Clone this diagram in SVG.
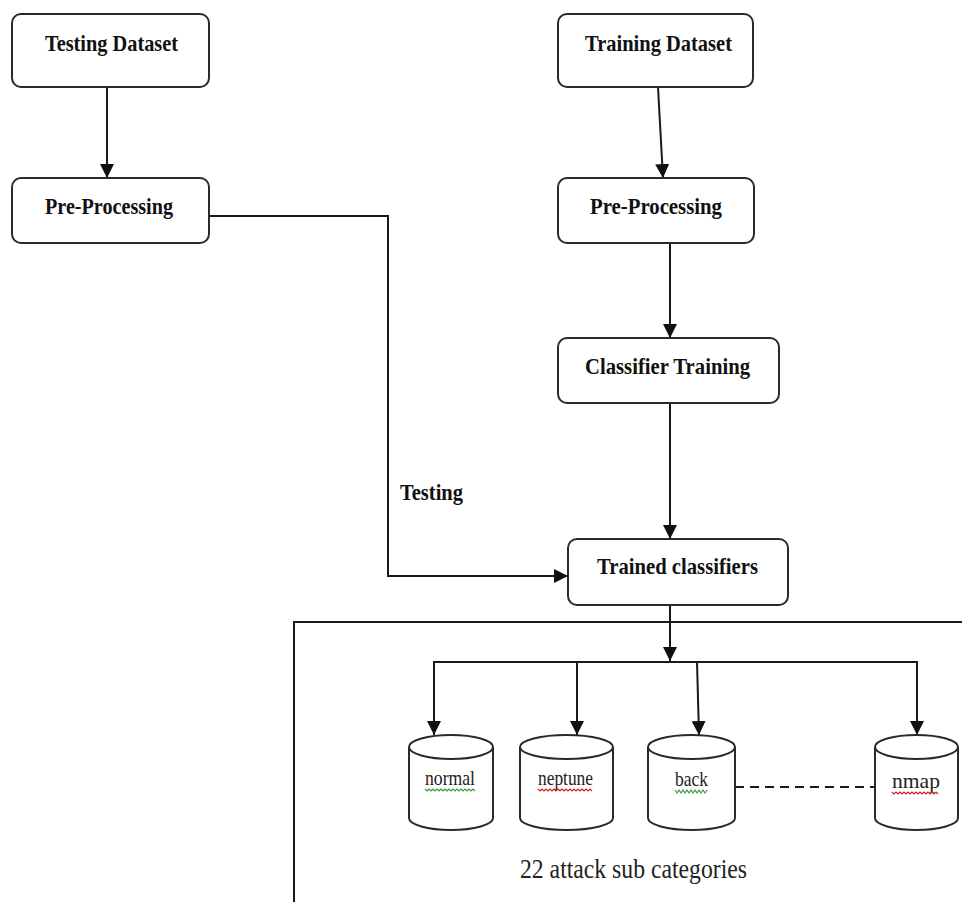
<svg xmlns="http://www.w3.org/2000/svg" width="962" height="902" viewBox="0 0 962 902">
<style>
.box{fill:#fff;stroke:#2a2a2a;stroke-width:2}
.lbl{font-family:"Liberation Serif","Times New Roman",serif;font-weight:bold;font-size:24px;fill:#111}
.cyl{font-family:"Liberation Serif","Times New Roman",serif;font-size:21px;fill:#222}
.ln{fill:none;stroke:#1a1a1a;stroke-width:2}
.sq{fill:none;stroke-width:1.2}
</style>
<defs>
<marker id="ah" markerUnits="userSpaceOnUse" markerWidth="14" markerHeight="14" viewBox="0 0 12 12" refX="12" refY="6" orient="auto">
<path d="M0,0 L12,6 L0,12 z" fill="#111"/>
</marker>
</defs>
<rect width="962" height="902" fill="#fff"/>

<g id="connectors">
<line class="ln" x1="107" y1="87" x2="107" y2="178" marker-end="url(#ah)"/>
<line class="ln" x1="658" y1="87" x2="663" y2="178" marker-end="url(#ah)"/>
<line class="ln" x1="670" y1="243" x2="670" y2="338" marker-end="url(#ah)"/>
<line class="ln" x1="670" y1="403" x2="670" y2="539" marker-end="url(#ah)"/>
<polyline class="ln" points="209,216 388,216 388,576 568,576" marker-end="url(#ah)"/>
<line class="ln" x1="670" y1="605" x2="670" y2="661" marker-end="url(#ah)"/>
<line class="ln" x1="433" y1="662" x2="918" y2="662"/>
<line class="ln" x1="434" y1="662" x2="434" y2="735" marker-end="url(#ah)"/>
<line class="ln" x1="577" y1="662" x2="577" y2="735" marker-end="url(#ah)"/>
<line class="ln" x1="697" y1="662" x2="699" y2="735" marker-end="url(#ah)"/>
<line class="ln" x1="917" y1="662" x2="917" y2="735" marker-end="url(#ah)"/>
<line class="ln" x1="735" y1="787" x2="875" y2="787" stroke-dasharray="9,6"/>
<path class="ln" d="M294,902 V622 H962"/>
</g>

<g id="testing-dataset">
<rect class="box" x="12" y="14" width="197" height="73" rx="9"/>
<text class="lbl" x="45" y="51" textLength="133" lengthAdjust="spacingAndGlyphs">Testing Dataset</text>
</g>
<g id="preprocessing-left">
<rect class="box" x="12" y="178" width="197" height="65" rx="9"/>
<text class="lbl" x="45" y="214" textLength="128" lengthAdjust="spacingAndGlyphs">Pre-Processing</text>
</g>
<g id="training-dataset">
<rect class="box" x="558" y="14" width="195" height="73" rx="9"/>
<text class="lbl" x="585" y="51" textLength="147" lengthAdjust="spacingAndGlyphs">Training Dataset</text>
</g>
<g id="preprocessing-right">
<rect class="box" x="558" y="178" width="196" height="65" rx="9"/>
<text class="lbl" x="590" y="214" textLength="132" lengthAdjust="spacingAndGlyphs">Pre-Processing</text>
</g>
<g id="classifier-training">
<rect class="box" x="558" y="338" width="221" height="65" rx="9"/>
<text class="lbl" x="585" y="374" textLength="165" lengthAdjust="spacingAndGlyphs">Classifier Training</text>
</g>
<g id="trained-classifiers">
<rect class="box" x="568" y="539" width="220" height="66" rx="9"/>
<text class="lbl" x="597" y="574" textLength="161" lengthAdjust="spacingAndGlyphs">Trained classifiers</text>
</g>
<g id="testing-label">
<text class="lbl" x="400" y="500" textLength="63" lengthAdjust="spacingAndGlyphs" font-size="22">Testing</text>
</g>

<g id="cyl-normal">
<path class="box" d="M409,747 A42,12 0 0 1 493,747 V818 A42,12 0 0 1 409,818 Z"/>
<path class="box" d="M409,747 A42,12 0 0 0 493,747" fill="none"/>
<text class="cyl" x="425" y="785" textLength="50" lengthAdjust="spacingAndGlyphs">normal</text>
<polyline class="sq" stroke="#3a9a3a" points="425,789 427,791 429,789 431,791 433,789 435,791 437,789 439,791 441,789 443,791 445,789 447,791 449,789 451,791 453,789 455,791 457,789 459,791 461,789 463,791 465,789 467,791 469,789 471,791 473,789 475,791"/>
</g>
<g id="cyl-neptune">
<path class="box" d="M520,747 A46.5,12 0 0 1 613,747 V818 A46.5,12 0 0 1 520,818 Z"/>
<path class="box" d="M520,747 A46.5,12 0 0 0 613,747" fill="none"/>
<text class="cyl" x="538" y="785" textLength="55" lengthAdjust="spacingAndGlyphs">neptune</text>
<polyline class="sq" stroke="#d02020" points="538,789 540,791 542,789 544,791 546,789 548,791 550,789 552,791 554,789 556,791 558,789 560,791 562,789 564,791 566,789 568,791 570,789 572,791 574,789 576,791 578,789 580,791 582,789 584,791 586,789 588,791 590,789 592,791"/>
</g>
<g id="cyl-back">
<path class="box" d="M648,747 A43.5,12 0 0 1 735,747 V818 A43.5,12 0 0 1 648,818 Z"/>
<path class="box" d="M648,747 A43.5,12 0 0 0 735,747" fill="none"/>
<text class="cyl" x="675" y="786" textLength="33" lengthAdjust="spacingAndGlyphs">back</text>
<polyline class="sq" stroke="#3a9a3a" points="675,790 677,793 679,790 681,793 683,790 685,793 687,790 689,793 691,790 693,793 695,790 697,793 699,790 701,793 703,790 705,793 707,790"/>
</g>
<g id="cyl-nmap">
<path class="box" d="M875,747 A41.5,12 0 0 1 958,747 V818 A41.5,12 0 0 1 875,818 Z"/>
<path class="box" d="M875,747 A41.5,12 0 0 0 958,747" fill="none"/>
<text class="cyl" x="892" y="788" textLength="48" lengthAdjust="spacingAndGlyphs">nmap</text>
<polyline class="sq" stroke="#d02020" points="892,792 894,794 896,792 898,794 900,792 902,794 904,792 906,794 908,792 910,794 912,792 914,794 916,792 918,794 920,792 922,794 924,792 926,794 928,792 930,794 932,792 934,794 936,792 938,794"/>
</g>

<g id="caption">
<text x="520" y="878" font-family="'Liberation Serif','Times New Roman',serif" font-size="28" fill="#222" textLength="227" lengthAdjust="spacingAndGlyphs">22 attack sub categories</text>
</g>
</svg>
